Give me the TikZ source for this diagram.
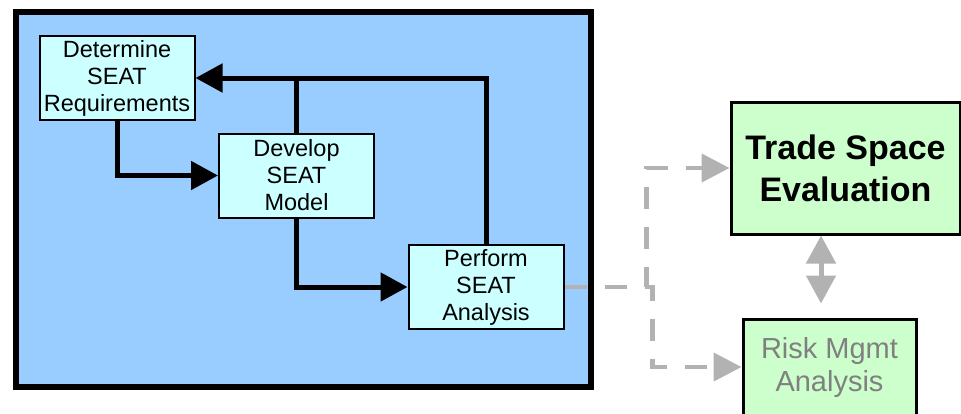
\documentclass[tikz,border=0pt]{standalone}
\usepackage{fontspec}
\setmainfont{Liberation Sans}
\usetikzlibrary{arrows.meta}
\definecolor{panelblue}{HTML}{99CCFF}
\definecolor{stepcyan}{HTML}{CCFFFF}
\definecolor{evalgreen}{HTML}{CCFFCC}
\definecolor{linkgray}{HTML}{B2B2B2}
\definecolor{textgray}{HTML}{808080}
\begin{document}
\begin{tikzpicture}[x=1pt, y=-1pt,
  stepbox/.style={draw, line width=2pt, fill=stepcyan, align=center, inner sep=0pt,
    font=\fontsize{23.5}{27}\selectfont},
  evalbox/.style={draw, line width=3pt, fill=evalgreen, align=center, inner sep=0pt},
  flow/.style={line width=5pt, line join=miter, -{Triangle[length=27pt,width=28pt]}},
  link/.style={linkgray, line width=4.5pt, dash pattern=on 22pt off 18pt,
    -{Triangle[length=28pt,width=28pt]}}]
  \def\bw{155} % step box width
  \def\bh{84}  % step box height

  \useasboundingbox (0,0) rectangle (961,413);

  % PANEL
  \draw[line width=5.5pt, fill=panelblue] (15.75,11.75) rectangle (591,387);

  % STEPS
  \node[stepbox, minimum width=\bw, minimum height=\bh] (req)  at (117,78)
    {Determine\\SEAT\\Requirements};
  \node[stepbox, minimum width=\bw, minimum height=\bh] (dev)  at (296.5,175.5)
    {Develop\\SEAT\\Model};
  \node[stepbox, minimum width=\bw, minimum height=\bh] (perf) at (486,287)
    {Perform\\SEAT\\Analysis};

  % EVALUATION
  \node[evalbox, minimum width=229, minimum height=132,
    font=\fontsize{34}{42}\selectfont\bfseries] (trade) at (845.5,168)
    {Trade Space\\Evaluation};
  \node[evalbox, minimum width=173, minimum height=96, text=textgray,
    font=\fontsize{29}{33}\selectfont] (risk) at (829.5,367)
    {Risk Mgmt\\Analysis};

  % STEP FLOW
  \draw[flow] (req.south) |- (dev.west);
  \draw[flow] (dev.south) |- (perf.west);
  \draw[flow] (perf.north) |- (req.east);
  \draw[line width=5pt] (dev.north) -- (dev.north |- req.east);

  % LINKS
  \draw[link] (perf.east) -- ++(82,0) |- (trade.west);
  \draw[link] (perf.east) -- ++(88,0) |- (risk.west);
  \draw[linkgray, line width=5pt, {Triangle[length=28pt,width=29pt]}-{Triangle[length=28pt,width=29pt]},
    shorten >=14pt]
    ([xshift=-24.5pt]trade.south) -- ([xshift=-24.5pt]trade.south |- risk.north);

\end{tikzpicture}
\end{document}
